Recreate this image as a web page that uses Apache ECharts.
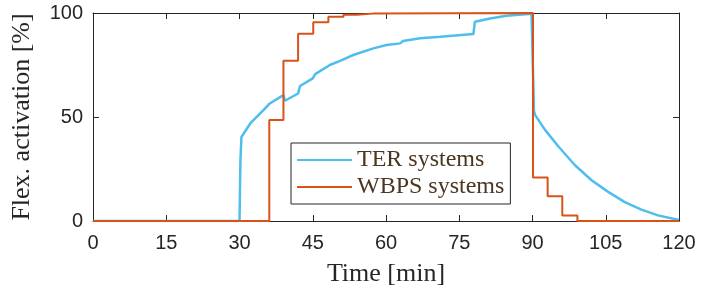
<!DOCTYPE html>
<html>
<head>
<meta charset="utf-8">
<script src="https://cdn.jsdelivr.net/npm/echarts@6/dist/echarts.min.js"></script>
<style>
  html, body { margin: 0; padding: 0; background: #fff; }
  #chart { width: 701px; height: 293px; }
</style>
</head>
<body>
<div id="chart"></div>
<script>
// x ticks (minutes) and y ticks (%)
const xTicks = [0, 15, 30, 45, 60, 75, 90, 105, 120]
const yTicks = [0, 50, 100]

// TER systems: time [min] and activation [%]
const terTime = [0, 30.0, 30.2, 30.4, 32.2, 34.9, 36.2, 39.0, 39.3, 42.0, 42.4, 45.0, 45.5, 48.5, 50.6,
  53.3, 57.4, 60.1, 62.9, 63.5, 67.0, 71.1, 77.9, 78.2, 81.3, 84.7, 89.8, 90.1, 90.3,
  90.55, 92.6, 95.4, 98.7, 102.1, 105.5, 108.9, 112.3, 115.7, 120]
const terValue = [0, 0, 30, 40.4, 46.9, 53.3, 56.5, 60.5, 57.8, 61.3, 64.9, 68.6, 70.6, 75.0, 77.0,
  79.8, 83.0, 84.6, 85.4, 86.5, 87.9, 88.6, 89.9, 95.8, 97.4, 98.7, 99.6, 99.7, 53,
  50.9, 43.7, 35.6, 26.8, 19.6, 14.0, 9.1, 5.5, 2.7, 0.5]

// WBPS systems: step changes (value holds until next time)
const wbpsTime = [0, 36.1, 39.0, 42.0, 45.1, 48.2, 51.3, 54.0, 57.3, 90.1, 93.1, 96.1, 99.2, 120]
const wbpsValue = [0, 48.6, 77.0, 90.0, 95.5, 98.2, 99.2, 99.7, 100, 20.9, 11.9, 2.7, 0, 0]

const pairs = (xs, ys) => xs.map((x, i) => [x, ys[i]])

const axisColor = '#262626'
const chart = echarts.init(document.getElementById('chart'))

const baseX = {
  type: 'value', min: 0, max: 120, interval: 15,
  axisLine: { show: true, onZero: false, lineStyle: { color: axisColor, width: 1 } },
  axisTick: { show: true, inside: true, length: 6, lineStyle: { color: axisColor } },
  splitLine: { show: false }
}
const baseY = {
  type: 'value', min: 0, max: 100, interval: 50,
  axisLine: { show: true, onZero: false, lineStyle: { color: axisColor, width: 1 } },
  axisTick: { show: true, inside: true, length: 6, lineStyle: { color: axisColor } },
  splitLine: { show: false }
}

chart.setOption({
  animation: false,
  grid: { left: 93, right: 22, top: 13, bottom: 72, containLabel: false },
  legend: {
    orient: 'vertical',
    left: 291, top: 143,
    width: 222,
    padding: [5, 6, 5, 6],
    itemGap: 3,
    itemWidth: 55, itemHeight: 20,
    borderColor: axisColor, borderWidth: 1,
    backgroundColor: '#fff',
    icon: 'path://M0,9 L55,9 L55,11 L0,11 Z',
    textStyle: { fontFamily: 'Liberation Serif', fontSize: 24, color: '#4b3621', padding: [0, 0, 0, 0] },
    data: ['TER systems', 'WBPS systems']
  },
  xAxis: [
    Object.assign({}, baseX, {
      position: 'bottom',
      name: 'Time [min]', nameLocation: 'middle', nameGap: 40,
      nameTextStyle: { fontFamily: 'Liberation Serif', fontSize: 26, color: axisColor },
      axisLabel: { show: true, margin: 12, fontFamily: 'Liberation Sans', fontSize: 20, color: axisColor,
        formatter: v => xTicks.includes(v) ? String(v) : '' }
    }),
    Object.assign({}, baseX, { position: 'top', axisLabel: { show: false } })
  ],
  yAxis: [
    Object.assign({}, baseY, {
      position: 'left',
      name: 'Flex. activation [%]', nameLocation: 'middle', nameGap: 58,
      nameTextStyle: { fontFamily: 'Liberation Serif', fontSize: 26, color: axisColor },
      axisLabel: { show: true, margin: 10, fontFamily: 'Liberation Sans', fontSize: 20, color: axisColor,
        formatter: v => yTicks.includes(v) ? String(v) : '' }
    }),
    Object.assign({}, baseY, { position: 'right', axisLabel: { show: false } })
  ],
  series: [
    {
      name: 'TER systems', type: 'line', xAxisIndex: 0, yAxisIndex: 0,
      data: pairs(terTime, terValue),
      showSymbol: false, symbol: 'none',
      lineStyle: { color: '#4DBEEE', width: 2.5 },
      itemStyle: { color: '#4DBEEE' },
      z: 3
    },
    {
      name: 'WBPS systems', type: 'line', xAxisIndex: 0, yAxisIndex: 0,
      data: pairs(wbpsTime, wbpsValue),
      step: 'end',
      showSymbol: false, symbol: 'none',
      lineStyle: { color: '#D95319', width: 2 },
      itemStyle: { color: '#D95319' },
      z: 4
    }
  ]
})
</script>
</body>
</html>
